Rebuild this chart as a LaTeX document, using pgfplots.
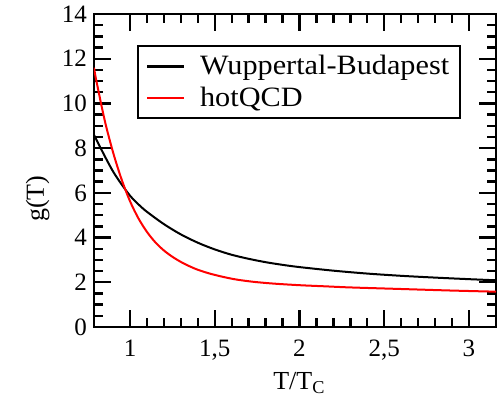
\documentclass[border=0pt]{standalone}
\usepackage{fontspec}
\setmainfont{Liberation Serif}
\usepackage{pgfplots}
\pgfplotsset{compat=1.18}
\begin{document}
\begin{tikzpicture}
\begin{axis}[
 scale only axis, width=201pt, height=156.5pt,
 xmin=0.787, xmax=3.16, ymin=0, ymax=14,
 axis line style={line width=1.4pt},
 xtick={1,1.5,2,2.5,3}, xticklabels={1,{1,5},2,{2,5},3},
 minor x tick num=4,
 ytick={0,2,4,6,8,10,12,14}, yticklabels={0,2,4,6,8,10,12,14},
 minor y tick num=3,
 tick align=inside,
 major tick length=8.5pt, minor tick length=4.5pt,
 every tick/.style={black, line width=1.2pt},
 tick label style={font=\rmfamily\fontsize{12.5}{14}\selectfont},
 xticklabel style={yshift=-3pt},
 xlabel={T/T\textsubscript{C}},
 ylabel={g(T)},
 label style={font=\rmfamily\fontsize{13}{15}\selectfont},
 xlabel style={at={(axis description cs:0.511,-0.2)}, anchor=base},
 ylabel style={at={(axis description cs:-0.14,0.41)}, anchor=center},
 legend style={at={(rel axis cs:0.107,0.90)}, anchor=north west, draw=black, line width=0.9pt,
   font=\rmfamily\fontsize{14}{16}\selectfont, inner xsep=4pt, inner ysep=3pt, row sep=1.5pt,
   nodes={inner sep=1.5pt}, cells={anchor=west}},
 /tikz/every odd column/.append style={column sep=6pt},
 legend image code/.code={\draw[#1, line width=1.1pt] (0pt,0pt) -- (18.5pt,0pt);},
]
\addplot[black, line width=1pt, smooth] coordinates {
(0.787,8.6) (0.8,8.4) (0.85,7.65) (0.9,6.95) (0.95,6.38) (1.0,5.87) (1.05,5.48) (1.1,5.15)
(1.2,4.6) (1.3,4.14) (1.4,3.77) (1.5,3.47) (1.6,3.23) (1.7,3.05) (1.8,2.9) (1.9,2.78)
(2.0,2.68) (2.2,2.52) (2.4,2.39) (2.6,2.29) (2.8,2.21) (3.0,2.14) (3.16,2.09)};
\addlegendentry{\scalebox{1.08}[1]{Wuppertal-Budapest}}
\addplot[red, line width=1pt, smooth] coordinates {
(0.787,11.6) (0.8,11.05) (0.85,9.25) (0.9,7.8) (0.95,6.6) (1.0,5.62) (1.05,4.85) (1.1,4.25)
(1.15,3.78) (1.2,3.42) (1.25,3.14) (1.3,2.91) (1.35,2.72) (1.4,2.56) (1.47,2.39) (1.55,2.24)
(1.63,2.12) (1.73,2.02) (1.85,1.94) (2.0,1.87) (2.15,1.82) (2.3,1.77) (2.6,1.7) (2.9,1.63) (3.16,1.58)};
\addlegendentry{\scalebox{1.08}[1]{hotQCD}}
\end{axis}
\pgfresetboundingbox
\path[use as bounding box] (-47pt,-35pt) rectangle (201.5pt,163.5pt);
\end{tikzpicture}
\end{document}
